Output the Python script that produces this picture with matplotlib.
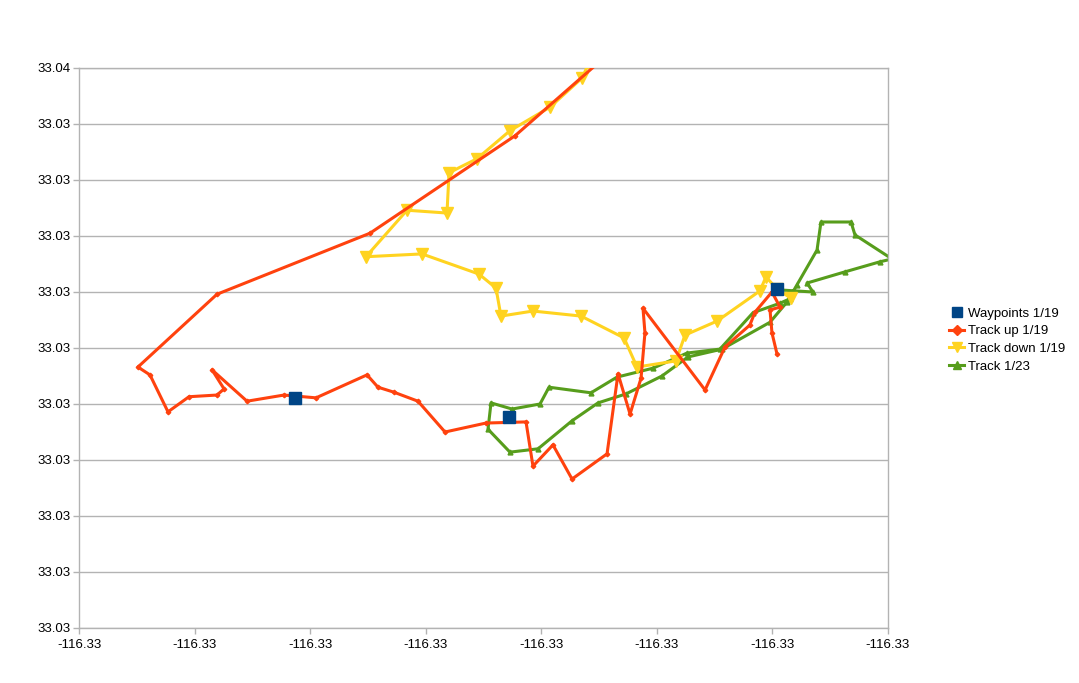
"""
GPS tracks around the trail head: waypoints and three recorded tracks,
drawn as an XY scatter chart with lines.

Output: out.png
"""

import matplotlib
matplotlib.use('Agg')
import matplotlib.pyplot as plt

# --- data (lon / lat) ----------------------------------------------------

waypoints_lon = [-116.332131, -116.330279, -116.327960]
waypoints_lat = [33.034411, 33.034377, 33.034605]

track_up_lon = [
    -116.329492, -116.330227, -116.331482, -116.332806, -116.333490,
    -116.333386, -116.333230, -116.333048, -116.332806, -116.332745,
    -116.332849, -116.332546, -116.332226, -116.331949, -116.331508,
    -116.331413, -116.331274, -116.331067, -116.330833, -116.330478,
    -116.330132, -116.330072, -116.329899, -116.329734, -116.329431,
    -116.329336, -116.329232, -116.329137, -116.329103, -116.329120,
    -116.328583, -116.328410, -116.328195, -116.328151, -116.328004,
    -116.327934, -116.328021, -116.328004, -116.327960,
]
track_up_lat = [
    33.035012, 33.034879, 33.034705, 33.034596, 33.034466,
    33.034452, 33.034386, 33.034413, 33.034416, 33.034427,
    33.034461, 33.034405, 33.034416, 33.034411, 33.034452,
    33.034430, 33.034421, 33.034405, 33.034350, 33.034366,
    33.034368, 33.034289, 33.034327, 33.034266, 33.034311,
    33.034454, 33.034382, 33.034446, 33.034527, 33.034571,
    33.034425, 33.034502, 33.034541, 33.034564, 33.034600,
    33.034573, 33.034568, 33.034527, 33.034489,
]

track_down_lon = [
    -116.329587, -116.329648, -116.329925, -116.330271, -116.330556,
    -116.330798, -116.330816, -116.331162, -116.331517, -116.331032,
    -116.330539, -116.330392, -116.330349, -116.330072, -116.329656,
    -116.329284, -116.329172, -116.328834, -116.328757, -116.328480,
    -116.328108, -116.328056, -116.327960, -116.327839,
]
track_down_lat = [
    33.035009, 33.034982, 33.034930, 33.034888, 33.034838,
    33.034813, 33.034741, 33.034746, 33.034663, 33.034668,
    33.034632, 33.034607, 33.034557, 33.034566, 33.034557,
    33.034518, 33.034466, 33.034477, 33.034523, 33.034548,
    33.034602, 33.034627, 33.034605, 33.034589,
]

track_123_lon = [
    -116.327960, -116.327649, -116.327701, -116.327372, -116.327069,
    -116.326965, -116.327286, -116.327320, -116.327580, -116.327614,
    -116.327787, -116.327874, -116.328021, -116.328436, -116.328731,
    -116.328956, -116.329267, -116.329509, -116.329734, -116.330028,
    -116.330271, -116.330461, -116.330435, -116.330253, -116.330011,
    -116.329933, -116.329570, -116.329345, -116.329033, -116.328739,
    -116.328454, -116.328168, -116.327934, -116.327848,
]
track_123_lat = [
    33.034604, 33.034600, 33.034616, 33.034636, 33.034654,
    33.034659, 33.034702, 33.034725, 33.034725, 33.034675,
    33.034613, 33.034582, 33.034546, 33.034498, 33.034484,
    33.034450, 33.034418, 33.034402, 33.034370, 33.034320,
    33.034314, 33.034355, 33.034402, 33.034391, 33.034400,
    33.034430, 33.034420, 33.034448, 33.034464, 33.034491,
    33.034498, 33.034563, 33.034580, 33.034588,
]

x_ticks = [-116.334, -116.333, -116.332, -116.331, -116.330,
           -116.329, -116.328, -116.327]
x_tick_labels = ['-116.33'] * 8
y_ticks = [33.0340, 33.0341, 33.0342, 33.0343, 33.0344, 33.0345,
           33.0346, 33.0347, 33.0348, 33.0349, 33.0350]
y_tick_labels = ['33.03'] * 10 + ['33.04']

# LibreOffice default chart colours
BLUE = '#004586'
RED = '#ff420e'
YELLOW = '#ffd320'
GREEN = '#579d1c'
GRID = '#b3b3b3'


def plot_tracks():
    plt.rcParams['font.family'] = ['Liberation Sans', 'DejaVu Sans']

    fig = plt.figure(figsize=(10.79, 6.83), dpi=100)
    ax = fig.add_axes([79 / 1079, 55 / 683, 809 / 1079, 560 / 683])

    lw = 2.2
    ax.plot(track_123_lon, track_123_lat, '-^', color=GREEN, linewidth=lw,
            markersize=3.5, label='Track 1/23', zorder=2)
    ax.plot(track_down_lon, track_down_lat, '-v', color=YELLOW, linewidth=lw,
            markersize=8, label='Track down 1/19', zorder=3)
    ax.plot(track_up_lon, track_up_lat, '-D', color=RED, linewidth=lw,
            markersize=2.3, label='Track up 1/19', zorder=4)
    ax.plot(waypoints_lon, waypoints_lat, 's', color=BLUE,
            markersize=8.5, label='Waypoints 1/19', zorder=5)

    ax.set_xlim(x_ticks[0], x_ticks[-1])
    ax.set_ylim(y_ticks[0], y_ticks[-1])
    ax.set_xticks(x_ticks)
    ax.set_xticklabels(x_tick_labels)
    ax.set_yticks(y_ticks)
    ax.set_yticklabels(y_tick_labels)

    # horizontal grid only, grey frame, outward ticks
    ax.yaxis.grid(True, color=GRID, linewidth=1)
    ax.set_axisbelow(True)
    for side in ['left', 'right', 'bottom', 'top']:
        ax.spines[side].set_color(GRID)
        ax.spines[side].set_linewidth(1)
    ax.tick_params(axis='both', direction='out', length=4, width=1,
                   color=GRID, labelsize=9.5, labelcolor='black', pad=2)
    ax.tick_params(axis='x', pad=4)

    # legend order as in the reference; bigger markers in the key
    handles, labels = ax.get_legend_handles_labels()
    order = [3, 2, 1, 0]
    leg = ax.legend([handles[i] for i in order], [labels[i] for i in order],
                    loc='center left', bbox_to_anchor=(942 / 1079, 0.502),
                    bbox_transform=fig.transFigure, frameon=False,
                    fontsize=9.5, handlelength=1.2, handletextpad=0.3,
                    labelspacing=0.4, borderpad=0, markerscale=1.0)
    for h, ms in zip(leg.legend_handles, [6.5, 5, 7, 6]):
        h.set_markersize(ms)

    fig.patch.set_facecolor('white')
    fig.savefig('out.png', dpi=100, facecolor='white')
    plt.close(fig)


if __name__ == '__main__':
    plot_tracks()
